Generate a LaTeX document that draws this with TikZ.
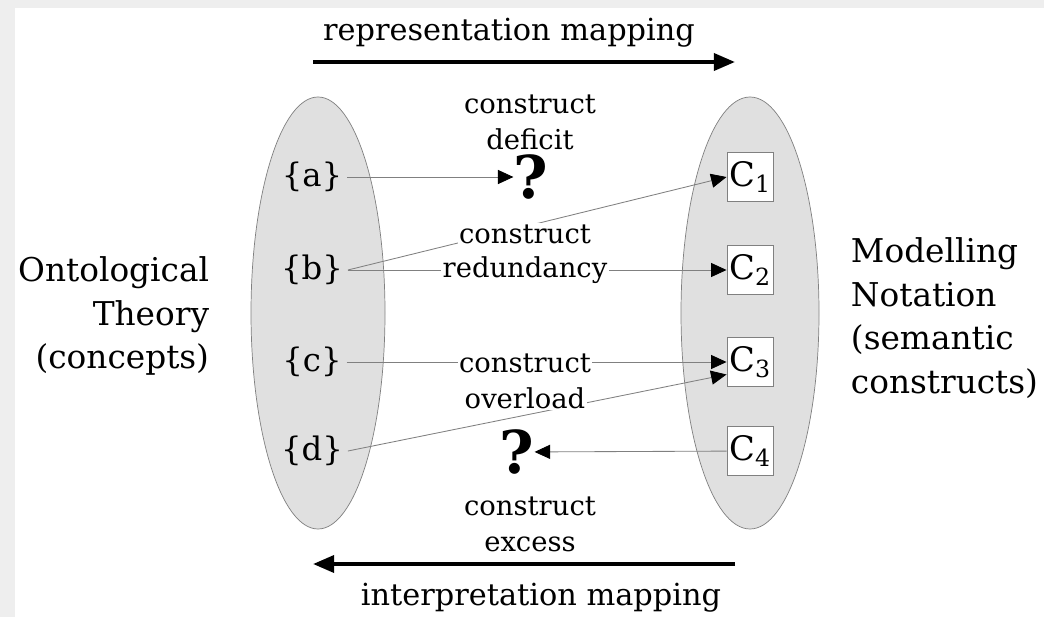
\documentclass[tikz,border=0pt]{standalone}
\usepackage{fontspec}
\setmainfont{DejaVu Serif}
\usetikzlibrary{arrows.meta}

\definecolor{paper}{HTML}{EEEEEE}
\definecolor{setgrey}{HTML}{E0E0E0}
\definecolor{edgegrey}{HTML}{808080}

\tikzset{
  sidelbl/.style={font=\fontsize{23.3}{31}\selectfont},
  maplbl/.style={font=\fontsize{21.6}{26}\selectfont, anchor=base},
  issue/.style={font=\fontsize{19.5}{25.5}\selectfont, align=center},
  gap/.style={issue, anchor=base, fill=white, inner sep=1pt},
  elem/.style={font=\fontsize{23}{26}\selectfont},
  cbox/.style={draw=edgegrey, fill=white, font=\fontsize{24}{26}\selectfont,
    minimum width=33pt, minimum height=35pt, inner sep=0pt},
  qmark/.style={font=\fontsize{42}{42}\selectfont\bfseries, inner sep=0pt},
  rel/.style={draw=edgegrey, line width=0.6pt, -{Triangle[length=11pt,width=10pt,black]}},
  mapping/.style={line width=2.8pt, -{Triangle[length=15pt,width=12pt]}}
}

\begin{document}
\begin{tikzpicture}[x=0.025cm, y=-0.025cm]
  % page and paper edge
  \useasboundingbox (0,0) rectangle (1044,617);
  \fill[white] (0,0) rectangle (1044,617);
  \fill[paper] (0,0) rectangle (1044,8);
  \fill[paper] (0,0) rectangle (15,617);

  % the two sets
  \draw[edgegrey, fill=setgrey, line width=0.5pt] (318,313) ellipse (67 and 216);
  \draw[edgegrey, fill=setgrey, line width=0.5pt] (750,313) ellipse (69 and 216);

  \node[sidelbl, align=right, anchor=east] (onto) at (214,316)
    {Ontological\\Theory\\(concepts)};
  \node[sidelbl, align=left, anchor=west] (nota) at (846,318)
    {Modelling\\Notation\\(semantic\\constructs)};

  % concepts
  \node[elem] (a) at (312,177) {\{a\}};
  \node[elem] (b) at (312,270) {\{b\}};
  \node[elem] (c) at (312,362) {\{c\}};
  \node[elem] (d) at (312,451) {\{d\}};

  % constructs
  \node[cbox] (c1) at (750,177) {C\textsubscript{1}};
  \node[cbox] (c2) at (750,270) {C\textsubscript{2}};
  \node[cbox] (c3) at (750,362) {C\textsubscript{3}};
  \node[cbox] (c4) at (750,451) {C\textsubscript{4}};

  \node[qmark] (q1) at (531,177) {?};
  \node[qmark] (q2) at (517,452) {?};

  % mappings
  \coordinate (repL) at (313,62);
  \coordinate (repR) at (735,62);
  \coordinate (intL) at (313,564);
  \coordinate (intR) at (735,564);
  \draw[mapping] (repL) -- (repR);
  \draw[mapping] (intR) -- (intL);
  \node[maplbl] (rep) at (509,41) {representation mapping};
  \node[maplbl] (int) at (541,605) {interpretation mapping};

  \draw[rel] (a) -- (q1);
  \draw[rel] (b.east) -- (c1.west);
  \draw[rel] (b) -- (c2);
  \draw[rel] (c) -- (c3);
  \draw[rel] (d.east) -- (c3.208);
  \draw[rel] (c4) -- (q2);

  % ontological deficiencies
  \node[issue] (deficit) at (530,122) {construct\\deficit};
  \node[gap] (redA) at (525,243) {construct};
  \node[gap] (redB) at (525,277) {redundancy};
  \node[gap] (ovlA) at (525,372) {construct};
  \node[gap] (ovlB) at (525,408) {overload};
  \node[issue] (excess) at (530,524) {construct\\excess};
\end{tikzpicture}
\end{document}
